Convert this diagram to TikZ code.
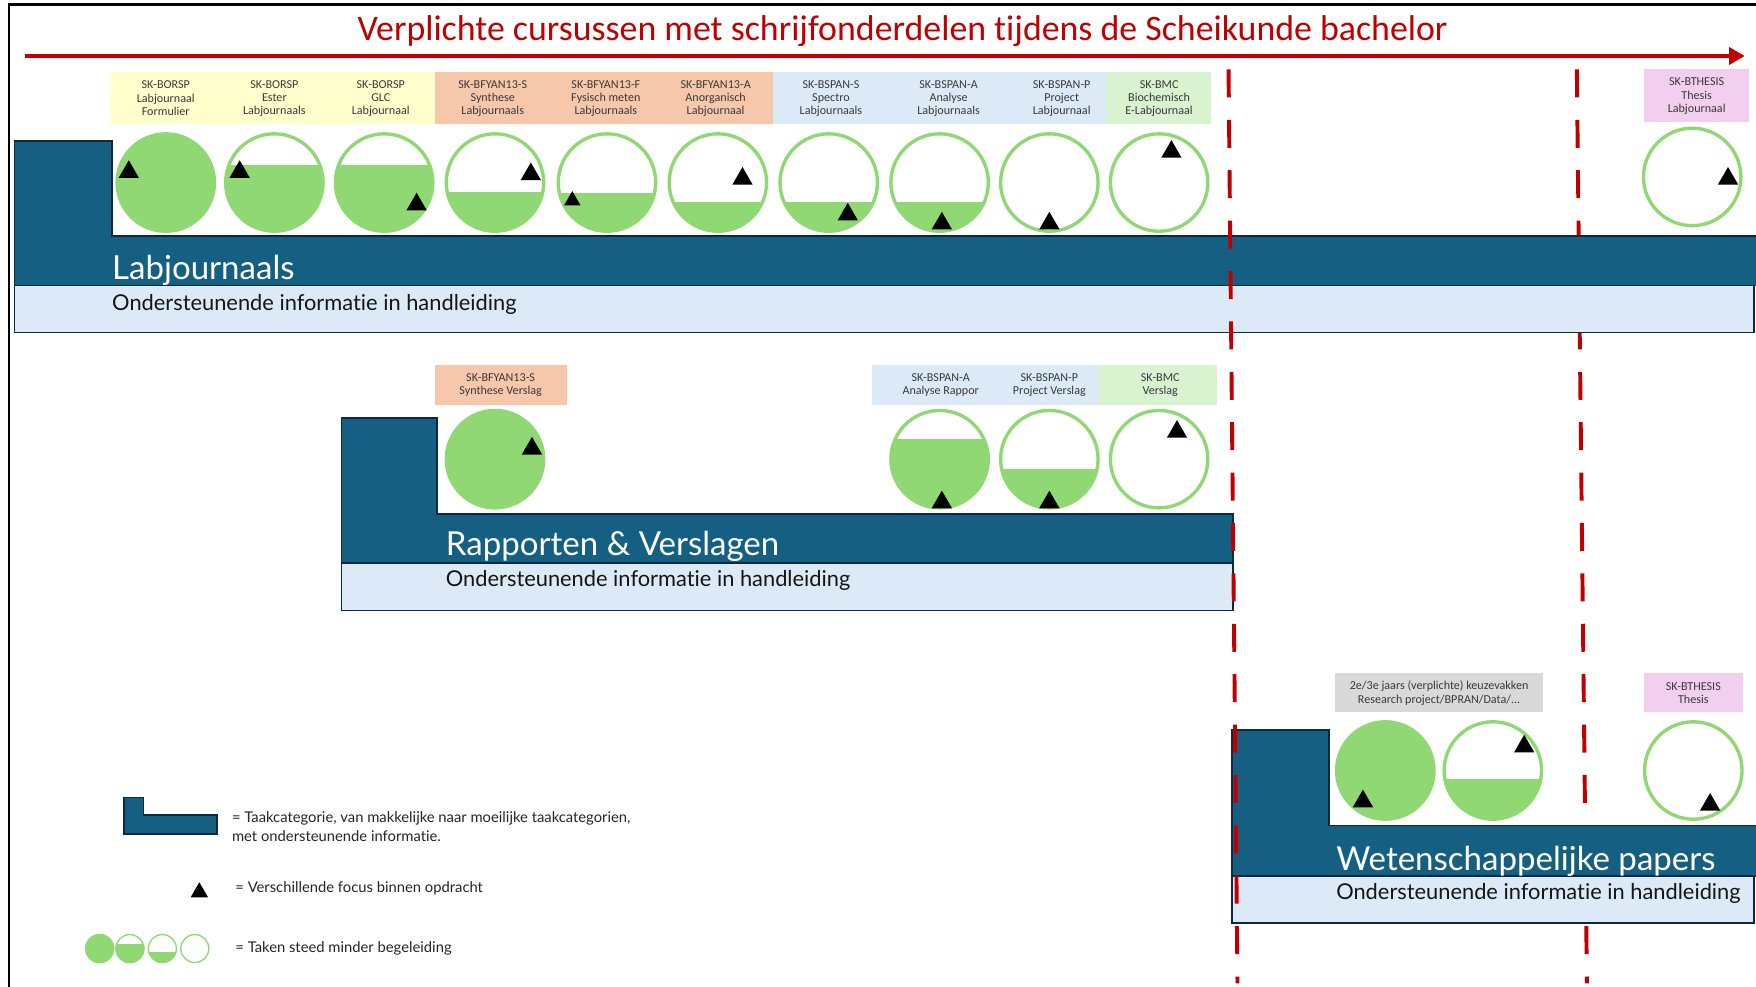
\documentclass[tikz,border=0pt]{standalone}
\usepackage{fontspec}
\setmainfont[Ligatures=NoCommon]{Lato}
\newfontfamily\narrowfont[Ligatures=NoCommon]{Carlito}
\usetikzlibrary{arrows.meta,shapes.geometric}
\definecolor{catblue}{HTML}{156082}
\definecolor{catline}{HTML}{0E2841}
\definecolor{infobg}{HTML}{DCEAF7}
\definecolor{cgreen}{HTML}{8FD873}
\definecolor{titlered}{HTML}{C00000}
\definecolor{lyellow}{HTML}{FFFFCC}
\definecolor{lsalmon}{HTML}{F7C7AC}
\definecolor{lblue}{HTML}{DCEAF7}
\definecolor{lgreenbox}{HTML}{D9F2D0}
\definecolor{lpink}{HTML}{F2CEEF}
\definecolor{lgray}{HTML}{D9D9D9}
\definecolor{labtext}{HTML}{3A3A3A}
\definecolor{infotextc}{HTML}{151515}
\definecolor{legc}{HTML}{262626}
% name, x, y, level (y of fill line), clip radius, style
\newcommand\lvlcirc[6]{%
  \begin{scope}\clip (#2,#3) circle[radius=#5pt];
  \fill[cgreen] (#2-60,#4) rectangle (#2+60,#3+60);\end{scope}
  \node[#6] (#1) at (#2,#3) {};}
\begin{document}
\begin{tikzpicture}[x=1pt,y=-1pt,
  lab/.style={font=\narrowfont\fontsize{10.8}{12}\selectfont, text=labtext, align=center, inner sep=0pt},
  circ/.style={circle, draw=cgreen, line width=3pt, minimum size=87pt, inner sep=0pt},
  legcirc/.style={circle, draw=cgreen, line width=1.2pt, minimum size=25pt, inner sep=0pt},
  tri/.style={regular polygon, regular polygon sides=3, fill=black, inner sep=0pt, minimum size=21pt, yshift=-2.6pt},
  cat/.style={fill=catblue, draw=catline, line width=1.5pt},
  info/.style={fill=infobg, draw=catline, line width=1.5pt},
  cattitle/.style={anchor=west, text=white, font=\fontsize{29.5}{34}\selectfont, inner sep=0pt},
  infotext/.style={anchor=west, text=infotextc, font=\fontsize{19.5}{22}\selectfont, inner sep=0pt},
  legtext/.style={anchor=west, text=legc, font=\fontsize{13.2}{17}\selectfont, inner sep=0pt, align=left},
  reddash/.style={draw=titlered, line width=3.5pt, dash pattern=on 25pt off 20pt},
]
\useasboundingbox (0,0) rectangle (1568,881);
\fill[white] (0,0) rectangle (1568,881);
\draw[line width=2pt] (8,881) -- (8,4) -- (1568,4);

% title and arrow
\node[font=\narrowfont\fontsize{32}{36}\selectfont, text=titlered, inner sep=0pt] (title) at (806,28)
  {Verplichte cursussen met schrijfonderdelen tijdens de Scheikunde bachelor};
\coordinate (arA) at (22,50);
\coordinate (arB) at (1558,50);
\draw[titlered, line width=4pt, -{Triangle[length=14pt,width=15pt]}] (arA) -- (arB);

% second dashed separator (lies behind the category bars)
\coordinate (d2a) at (1408,62);
\coordinate (d2b) at (1417,878);
\draw[reddash] (d2a) -- (d2b);

% label backgrounds row 1
\fill[lyellow] (98,64) rectangle (388,111);
\fill[lsalmon] (388,64) rectangle (690,111);
\fill[lblue] (690,64) rectangle (988,111);
\fill[lgreenbox] (988,64) rectangle (1081,111);
\fill[lpink] (1468,62) rectangle (1562,109);
% row 2
\fill[lsalmon] (388,326) rectangle (506,362);
\fill[lblue] (779,326) rectangle (981,362);
\fill[lgreenbox] (981,326) rectangle (1087,362);
% row 3
\fill[lgray] (1192,601) rectangle (1378,636);
\fill[lpink] (1468,601) rectangle (1556,636);

% labels row 1
\node[lab] (l1) at (148,88) {SK-BORSP\\Labjournaal\\Formulier};
\node[lab] (l2) at (245,88) {SK-BORSP\\Ester\\Labjournaals};
\node[lab] (l3) at (340,88) {SK-BORSP\\GLC\\Labjournaal};
\node[lab] (l4) at (440,88) {SK-BFYAN13-S\\Synthese\\Labjournaals};
\node[lab] (l5) at (541,88) {SK-BFYAN13-F\\Fysisch meten\\Labjournaals};
\node[lab] (l6) at (639,88) {SK-BFYAN13-A\\Anorganisch\\Labjournaal};
\node[lab] (l7) at (742,88) {SK-BSPAN-S\\Spectro\\Labjournaals};
\node[lab] (l8) at (847,88) {SK-BSPAN-A\\Analyse\\Labjournaals};
\node[lab] (l9) at (948,88) {SK-BSPAN-P\\Project\\Labjournaal};
\node[lab] (l10) at (1035,88) {SK-BMC\\Biochemisch\\E-Labjournaal};
\node[lab] (l11) at (1515,86) {SK-BTHESIS\\Thesis\\Labjournaal};
% labels row 2
\node[lab] (m1) at (447,344) {SK-BFYAN13-S\\Synthese Verslag};
\node[lab] (m2) at (840,344) {SK-BSPAN-A\\Analyse Rappor};
\node[lab] (m3) at (937,344) {SK-BSPAN-P\\Project Verslag};
\node[lab] (m4) at (1036,344) {SK-BMC\\Verslag};
% labels row 3
\node[lab] (n1) at (1285,619) {2e/3e jaars (verplichte) keuzevakken\\Research project/BPRAN/Data/...};
\node[lab] (n2) at (1512,619) {SK-BTHESIS\\Thesis};

% category shapes
\draw[cat] (13,126) -- (100,126) -- (100,211) -- (1570,211) -- (1570,255) -- (13,255) -- cycle;
\draw[info] (13,255) rectangle (1566,297);
\draw[cat] (305,373) -- (390,373) -- (390,459) -- (1101,459) -- (1101,503) -- (305,503) -- cycle;
\draw[info] (305,503) rectangle (1101,545);
\draw[cat] (1100,652) -- (1187,652) -- (1187,737) -- (1570,737) -- (1570,782) -- (1100,782) -- cycle;
\draw[info] (1100,782) rectangle (1566,824);

\node[cattitle] (c1) at (100,241) {Labjournaals};
\node[infotext] (i1) at (100,271.5) {Ondersteunende informatie in handleiding};
\node[cattitle] (c2) at (398,488) {Rapporten \& Verslagen};
\node[infotext] (i2) at (398,518.5) {Ondersteunende informatie in handleiding};
\node[cattitle] (c3) at (1193,769) {Wetenschappelijke papers};
\node[infotext] (i3) at (1193,797.5) {Ondersteunende informatie in handleiding};

% circles row 1
\lvlcirc{a1}{148}{163}{100}{44}{circ}
\lvlcirc{a2}{245}{163}{147}{44}{circ}
\lvlcirc{a3}{343}{163}{147}{44}{circ}
\lvlcirc{a4}{442}{163}{171}{44}{circ}
\lvlcirc{a5}{542}{163}{172}{44}{circ}
\lvlcirc{a6}{641}{163}{180}{44}{circ}
\lvlcirc{a7}{740}{163}{180}{44}{circ}
\lvlcirc{a8}{839}{163}{180}{44}{circ}
\node[circ] (a9) at (937,163) {};
\node[circ] (a10) at (1035,163) {};
\node[circ] (a11) at (1511,158) {};
% circles row 2
\lvlcirc{b1}{442}{410}{350}{44}{circ}
\lvlcirc{b2}{839}{410}{392}{44}{circ}
\lvlcirc{b3}{937}{410}{419}{44}{circ}
\node[circ] (b4) at (1035,410) {};
% circles row 3
\lvlcirc{e1}{1237}{688}{630}{44}{circ}
\lvlcirc{e2}{1333}{688}{696}{44}{circ}
\node[circ] (e3) at (1512,688) {};

% triangles
\node[tri] (ta1) at (115,151) {};
\node[tri] (ta2) at (214,151) {};
\node[tri] (ta3) at (372,180) {};
\node[tri] (ta4) at (474,153) {};
\node[tri, minimum size=17pt, yshift=0.5pt] (ta5) at (511,177) {};
\node[tri] (ta6) at (663,157) {};
\node[tri] (ta7) at (757,189) {};
\node[tri] (ta8) at (841,197) {};
\node[tri] (ta9) at (937,197) {};
\node[tri] (ta10) at (1046,133) {};
\node[tri] (ta11) at (1543,157) {};
\node[tri] (tb1) at (475,398) {};
\node[tri] (tb2) at (841,446) {};
\node[tri] (tb3) at (937,446) {};
\node[tri] (tb4) at (1051,383) {};
\node[tri] (te1) at (1217,713) {};
\node[tri] (te2) at (1361,664) {};
\node[tri] (te3) at (1527,716) {};

% legend
\draw[cat] (111,712) -- (128,712) -- (128,728) -- (194,728) -- (194,745) -- (111,745) -- cycle;
\node[legtext] (g1) at (207,738) {= Taakcategorie, van makkelijke naar moeilijke taakcategorien,\\met ondersteunende informatie.};
\node[tri, minimum size=18pt, yshift=-2.2pt] (gt) at (178,792) {};
\node[legtext] (g2) at (210,793.5) {= Verschillende focus binnen opdracht};
\lvlcirc{gc1}{89}{847}{820}{13}{legcirc}
\lvlcirc{gc2}{116}{847}{843}{13}{legcirc}
\lvlcirc{gc3}{145}{847}{850}{13}{legcirc}
\node[legcirc] (gc4) at (174,847) {};
\node[legtext] (g3) at (210,846.5) {= Taken steed minder begeleiding};

% first dashed separator (drawn over the category bars)
\coordinate (d1a) at (1097,62);
\coordinate (d1b) at (1105,878);
\draw[reddash] (d1a) -- (d1b);
\end{tikzpicture}
\end{document}
